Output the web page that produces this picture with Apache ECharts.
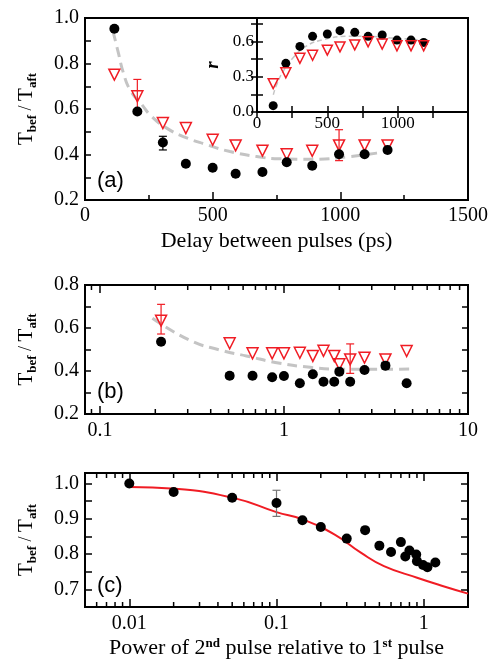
<!DOCTYPE html>
<html>
<head><meta charset="utf-8"></head>
<script type="text/javascript" src="https://cdn.jsdelivr.net/npm/echarts@6/dist/echarts.min.js"></script>
<body style="margin:0;background-color:#fff;">
    <div id="main" style="width:490px;height:660px;"></div>
<script type="text/javascript">
// ---- (a) delay scan ----
var delayX = [115, 205, 305, 395, 500, 590, 695, 790, 890, 995, 1095, 1185];
var delayCirc = [0.953, 0.589, 0.453, 0.359, 0.342, 0.315, 0.323, 0.366, 0.351, 0.401, 0.401, 0.420];
var delayTri = [0.751, 0.656, 0.538, 0.516, 0.465, 0.440, 0.417, 0.401, 0.416, 0.440, 0.440, 0.440];
var delayFitX = [110, 130, 150, 176, 222, 261, 320, 385, 477, 568, 672, 764, 894, 1038, 1142, 1195];
var delayFitY = [0.94, 0.85, 0.76, 0.685, 0.62, 0.567, 0.516, 0.479, 0.443, 0.413, 0.391, 0.381, 0.379, 0.391, 0.406, 0.417];
var delayCircErr = [[305, 0.42, 0.48]];
var delayTriErr = [[205, 0.58, 0.73], [995, 0.373, 0.509]];
// inset r
var rCirc = [0.054, 0.414, 0.558, 0.644, 0.664, 0.692, 0.678, 0.644, 0.655, 0.612, 0.612, 0.592];
var rTri = [0.241, 0.333, 0.457, 0.483, 0.526, 0.554, 0.571, 0.597, 0.578, 0.563, 0.563, 0.563];
var rFitX = [116, 140, 187, 258, 353, 471, 637, 779, 992, 1181];
var rFitY = [0.147, 0.233, 0.347, 0.463, 0.563, 0.615, 0.644, 0.644, 0.627, 0.612];
// ---- (b) ----
var powX = [0.215, 0.507, 0.675, 0.863, 1.0, 1.22, 1.435, 1.64, 1.876, 2.0, 2.29, 2.74, 3.56, 4.64];
var powCirc = [0.536, 0.378, 0.378, 0.371, 0.377, 0.343, 0.385, 0.350, 0.350, 0.397, 0.350, 0.405, 0.425, 0.343];
var powTri = [0.634, 0.529, 0.482, 0.482, 0.482, 0.485, 0.470, 0.494, 0.470, 0.431, 0.454, 0.462, 0.454, 0.493];
var powFitX = [0.193, 0.306, 0.447, 0.625, 0.95, 1.39, 1.94, 2.95, 5.1];
var powFitY = [0.645, 0.544, 0.498, 0.47, 0.436, 0.417, 0.409, 0.408, 0.409];
var powTriErr = [[0.215, 0.572, 0.710], [2.29, 0.389, 0.526]];
var powCircErr = [[3.56, 0.41, 0.44], [0.507, 0.366, 0.39]];
var minorB = [0.09, 0.2, 0.3, 0.4, 0.5, 0.6, 0.7, 0.8, 0.9, 2, 3, 4, 5, 6, 7, 8, 9];
// ---- (c) ----
var ratioX = [0.01, 0.02, 0.05, 0.1, 0.15, 0.2, 0.3, 0.4, 0.5, 0.6, 0.7, 0.75, 0.8, 0.89, 0.9, 0.99, 1.06, 1.2];
var ratioY = [1.0, 0.976, 0.960, 0.945, 0.896, 0.877, 0.844, 0.868, 0.824, 0.806, 0.834, 0.793, 0.810, 0.799, 0.780, 0.769, 0.763, 0.776];
var modelX = [0.01, 0.0206, 0.0524, 0.1, 0.151, 0.247, 0.374, 0.537, 0.902, 1.36, 2.0];
var modelY = [0.990, 0.985, 0.958, 0.919, 0.898, 0.856, 0.804, 0.766, 0.733, 0.709, 0.688];
var ratioErr = [[0.1, 0.907, 0.981]];
var minorC = [0.006, 0.007, 0.008, 0.009, 0.02, 0.03, 0.04, 0.05, 0.06, 0.07, 0.08, 0.09, 0.2, 0.3, 0.4, 0.5, 0.6, 0.7, 0.8, 0.9];

var SERIF = 'Liberation Serif';
var SANS = 'Liberation Sans';
var RED = '#f01c24';

function zip(a, b) {
    var out = [];
    for (var i = 0; i < a.length; i++) out.push([a[i], b[i]]);
    return out;
}

function errBar(color, w, cap) {
    return function (params, api) {
        var lo = api.coord([api.value(0), api.value(1)]);
        var hi = api.coord([api.value(0), api.value(2)]);
        var st = {stroke: color, lineWidth: w};
        return {type: 'group', children: [
            {type: 'line', shape: {x1: lo[0], y1: lo[1], x2: hi[0], y2: hi[1]}, style: st},
            {type: 'line', shape: {x1: lo[0] - cap, y1: lo[1], x2: lo[0] + cap, y2: lo[1]}, style: st},
            {type: 'line', shape: {x1: hi[0] - cap, y1: hi[1], x2: hi[0] + cap, y2: hi[1]}, style: st}
        ]};
    };
}

// minor ticks of the log axes, top and bottom
function minorTicks(len) {
    return function (params, api) {
        var cs = params.coordSys;
        var x = api.coord([api.value(0), api.value(1)])[0];
        var top = cs.y, bot = cs.y + cs.height;
        var st = {stroke: '#000', lineWidth: 1.5};
        return {type: 'group', children: [
            {type: 'line', shape: {x1: x, y1: bot, x2: x, y2: bot - len}, style: st},
            {type: 'line', shape: {x1: x, y1: top, x2: x, y2: top + len}, style: st}
        ]};
    };
}

function grid(l, t, w, h, bg) {
    return {left: l, top: t, width: w, height: h, show: true, borderColor: '#000', borderWidth: 2,
        backgroundColor: bg || 'transparent', outerBoundsMode: 'none'};
}

function ax(o) {
    var base = {
        axisLine: {show: false},
        splitLine: {show: false},
        axisTick: {show: true, inside: true, length: 8, lineStyle: {color: '#000', width: 1.5}},
        axisLabel: {show: true, color: '#000', fontFamily: SERIF, fontSize: 20, margin: 6},
        nameTextStyle: {color: '#000', fontFamily: SERIF, fontSize: 22}
    };
    for (var k in o) {
        if (typeof o[k] === 'object' && base[k] && !Array.isArray(o[k])) {
            for (var j in o[k]) base[k][j] = o[k][j];
        } else base[k] = o[k];
    }
    return base;
}

function plain(v) { return String(v); }
function oneDec(v) { return v.toFixed(1); }

function tName() {
    return {
        name: '{t|T}{s|bef}{m| / }{t|T}{s|aft}',
        nameLocation: 'middle',
        nameRotate: 90,
        nameGap: 46,
        nameTextStyle: {rich: {
            t: {fontFamily: SERIF, fontSize: 21, color: '#000'},
            m: {fontFamily: SERIF, fontSize: 18, color: '#000'},
            s: {fontFamily: SERIF, fontSize: 13, fontWeight: 'bold', color: '#000', padding: [12, 0, 0, 0]}
        }}
    };
}

function mirror(o) {
    return ax(Object.assign({axisLabel: {show: false}}, o));
}

function letter(txt, l, t) {
    return {text: txt, left: l, top: t, padding: 0,
        textStyle: {fontFamily: SANS, fontSize: 22, fontWeight: 'normal', color: '#000'}};
}

var myChart = echarts.init(document.getElementById('main'));

var option = {
    backgroundColor: '#fff',
    animation: false,
    title: [letter('(a)', 97, 170), letter('(b)', 97, 381), letter('(c)', 97, 575)],
    grid: [
        grid(85, 18, 383, 182),
        grid(257, 18, 211, 94, '#fff'),
        grid(85, 285, 383, 129),
        grid(85, 473, 383, 134)
    ],
    xAxis: [
        ax({gridIndex: 0, type: 'value', min: 0, max: 1500, interval: 500,
            minorTick: {show: true, splitNumber: 2, length: 5, lineStyle: {color: '#000', width: 1.5}},
            axisLabel: {formatter: plain},
            name: 'Delay between pulses (ps)', nameLocation: 'middle', nameGap: 30}),
        ax({gridIndex: 1, type: 'value', min: 0, max: 1500, interval: 500,
            minorTick: {show: true, splitNumber: 2, length: 6, lineStyle: {color: '#000', width: 1.5}},
            axisTick: {length: 6},
            axisLabel: {fontSize: 17, margin: 3, showMaxLabel: false, formatter: plain}}),
        mirror({gridIndex: 1, type: 'value', position: 'top', min: 0, max: 1500, interval: 500,
            minorTick: {show: true, splitNumber: 2, length: 6, lineStyle: {color: '#000', width: 1.5}},
            axisTick: {length: 6}}),
        ax({gridIndex: 2, type: 'log', logBase: 10, min: 0.083, max: 10,
            axisLabel: {showMinLabel: false, margin: 7, formatter: plain}}),
        mirror({gridIndex: 2, type: 'log', logBase: 10, min: 0.083, max: 10, position: 'top'}),
        ax({gridIndex: 3, type: 'log', logBase: 10, min: 0.005, max: 2,
            axisLabel: {showMinLabel: false, showMaxLabel: false, margin: 7, formatter: plain},
            name: '{n|Power of 2}{p|nd}{n| pulse relative to 1}{p|st}{n| pulse}',
            nameLocation: 'middle', nameGap: 30,
            nameTextStyle: {rich: {
                n: {fontFamily: SERIF, fontSize: 22, color: '#000'},
                p: {fontFamily: SERIF, fontSize: 13, fontWeight: 'bold', color: '#000', padding: [0, 0, 10, 0]}
            }}}),
        mirror({gridIndex: 3, type: 'log', logBase: 10, min: 0.005, max: 2, position: 'top'})
    ],
    yAxis: [
        ax(Object.assign({gridIndex: 0, type: 'value', min: 0.2, max: 1.0, interval: 0.2,
            minorTick: {show: true, splitNumber: 2, length: 6, lineStyle: {color: '#000', width: 1.5}},
            axisTick: {length: 6},
            axisLabel: {formatter: oneDec}}, tName())),
        ax({gridIndex: 1, type: 'value', min: 0, max: 0.8, interval: 0.15,
            axisTick: {length: 6},
            axisLabel: {fontSize: 17, margin: 3, formatter: function (v) {
                var q = v / 0.3;
                return (Math.abs(q - Math.round(q)) < 1e-6 && v < 0.79) ? v.toFixed(1) : '';
            }},
            name: 'r', nameLocation: 'middle', nameRotate: 90, nameGap: 34,
            nameTextStyle: {fontSize: 19, fontStyle: 'italic', fontWeight: 'bold'}}),
        mirror({gridIndex: 1, type: 'value', position: 'right', min: 0, max: 0.8, interval: 0.15,
            axisTick: {length: 6}}),
        ax(Object.assign({gridIndex: 2, type: 'value', min: 0.2, max: 0.8, interval: 0.2,
            minorTick: {show: true, splitNumber: 2, length: 6, lineStyle: {color: '#000', width: 1.5}},
            axisTick: {length: 6},
            axisLabel: {formatter: oneDec}}, tName())),
        mirror({gridIndex: 2, type: 'value', position: 'right', min: 0.2, max: 0.8, interval: 0.2,
            minorTick: {show: true, splitNumber: 2, length: 6, lineStyle: {color: '#000', width: 1.5}},
            axisTick: {length: 6}}),
        ax(Object.assign({gridIndex: 3, type: 'value', min: 0.65, max: 1.03, interval: 0.05,
            axisTick: {length: 7},
            axisLabel: {formatter: function (v) {
                var q = v * 10;
                return (Math.abs(q - Math.round(q)) < 1e-6 && v > 0.66 && v < 1.02) ? v.toFixed(1) : '';
            }}}, tName())),
        mirror({gridIndex: 3, type: 'value', position: 'right', min: 0.65, max: 1.03, interval: 0.05,
            axisTick: {length: 7}})
    ],
    series: [
        // (a)
        {type: 'line', xAxisIndex: 0, yAxisIndex: 0, data: zip(delayFitX, delayFitY), smooth: true, showSymbol: false,
            lineStyle: {color: '#c4c4c4', width: 3, type: [10, 6]}, z: 1},
        {type: 'custom', xAxisIndex: 0, yAxisIndex: 0, data: delayTriErr, renderItem: errBar(RED, 1.2, 4), z: 3},
        {type: 'scatter', xAxisIndex: 0, yAxisIndex: 0, data: zip(delayX, delayTri), symbol: 'triangle', symbolRotate: 180,
            symbolSize: 11, itemStyle: {color: 'rgba(255,255,255,0)', borderColor: RED, borderWidth: 1.5, opacity: 1}, z: 4},
        {type: 'custom', xAxisIndex: 0, yAxisIndex: 0, data: delayCircErr, renderItem: errBar('#000', 1.2, 4), z: 5},
        {type: 'scatter', xAxisIndex: 0, yAxisIndex: 0, data: zip(delayX, delayCirc), symbol: 'circle', symbolSize: 10,
            itemStyle: {color: '#000', opacity: 1}, z: 6},
        // inset
        {type: 'line', xAxisIndex: 1, yAxisIndex: 1, data: zip(rFitX, rFitY), smooth: true, showSymbol: false,
            lineStyle: {color: '#c4c4c4', width: 1.5, type: [5, 3]}, z: 1},
        {type: 'scatter', xAxisIndex: 1, yAxisIndex: 1, data: zip(delayX, rCirc), symbol: 'circle', symbolSize: 9,
            itemStyle: {color: '#000', opacity: 1}, z: 4},
        {type: 'scatter', xAxisIndex: 1, yAxisIndex: 1, data: zip(delayX, rTri), symbol: 'triangle', symbolRotate: 180,
            symbolSize: 10, itemStyle: {color: 'rgba(255,255,255,0)', borderColor: RED, borderWidth: 1.5, opacity: 1}, z: 5},
        // (b)
        {type: 'custom', xAxisIndex: 3, yAxisIndex: 3, data: minorB.map(function (v) { return [v, 0.5]; }),
            renderItem: minorTicks(5), silent: true, z: 1},
        {type: 'line', xAxisIndex: 3, yAxisIndex: 3, data: zip(powFitX, powFitY), smooth: true, showSymbol: false,
            lineStyle: {color: '#c4c4c4', width: 3, type: [10, 6]}, z: 1},
        {type: 'custom', xAxisIndex: 3, yAxisIndex: 3, data: powTriErr, renderItem: errBar(RED, 1.2, 4), z: 3},
        {type: 'scatter', xAxisIndex: 3, yAxisIndex: 3, data: zip(powX, powTri), symbol: 'triangle', symbolRotate: 180,
            symbolSize: 11, itemStyle: {color: 'rgba(255,255,255,0)', borderColor: RED, borderWidth: 1.5, opacity: 1}, z: 4},
        {type: 'custom', xAxisIndex: 3, yAxisIndex: 3, data: powCircErr, renderItem: errBar('#000', 1.2, 4), z: 5},
        {type: 'scatter', xAxisIndex: 3, yAxisIndex: 3, data: zip(powX, powCirc), symbol: 'circle', symbolSize: 10,
            itemStyle: {color: '#000', opacity: 1}, z: 6},
        // (c)
        {type: 'custom', xAxisIndex: 5, yAxisIndex: 5, data: minorC.map(function (v) { return [v, 0.8]; }),
            renderItem: minorTicks(5), silent: true, z: 1},
        {type: 'line', xAxisIndex: 5, yAxisIndex: 5, data: zip(modelX, modelY), smooth: true, showSymbol: false,
            lineStyle: {color: RED, width: 2}, z: 2},
        {type: 'custom', xAxisIndex: 5, yAxisIndex: 5, data: ratioErr, renderItem: errBar('#777', 1.2, 4), z: 3},
        {type: 'scatter', xAxisIndex: 5, yAxisIndex: 5, data: zip(ratioX, ratioY), symbol: 'circle', symbolSize: 10,
            itemStyle: {color: '#000', opacity: 1}, z: 6}
    ]
};
myChart.setOption(option);

// the axis labels kept coming out sans-serif; force the serif family on every text span except the panel letters
var fixCount = 0;
function fixFonts() {
    if (fixCount > 3) return;
    fixCount++;
    var zr = myChart.getZr();
    var list = zr.storage.getDisplayList(true);
    for (var i = 0; i < list.length; i++) {
        var el = list[i];
        var st = el.style;
        if (!st || st.text == null || typeof st.font !== 'string') continue;
        if (/^\([abc]\)$/.test(String(st.text))) continue;
        var f = st.font.replace(/^(.*?\d+(?:\.\d+)?px)\s+.*$/, "$1 'Liberation Serif', serif");
        if (f !== st.font) {
            st.font = f;
            el.markRedraw();
        }
    }
    zr.refreshImmediately();
}
myChart.on('finished', fixFonts);
setTimeout(fixFonts, 0);
setTimeout(fixFonts, 100);
</script>
</body>
</html>
